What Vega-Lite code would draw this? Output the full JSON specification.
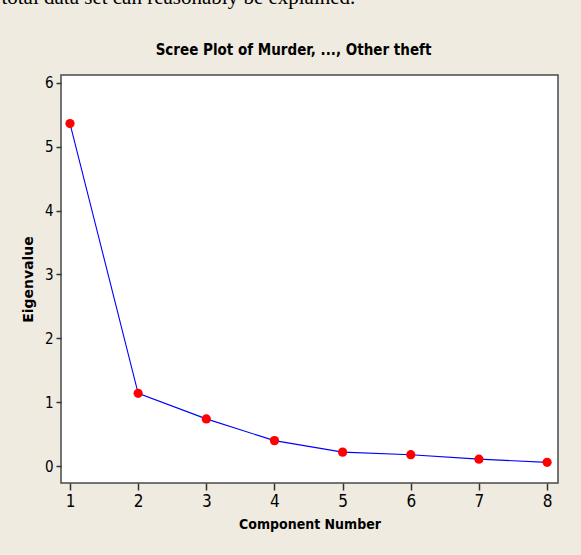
{
  "$schema": "https://vega.github.io/schema/vega-lite/v6.json",
  "width": 497,
  "height": 408,
  "autosize": {"type": "none"},
  "padding": {"left": 61, "top": 75, "right": 23, "bottom": 72},
  "background": "#efebe1",
  "title": {
    "text": "total data set can reasonably be explained.",
    "font": "Liberation Serif",
    "fontWeight": "normal",
    "fontSize": 21,
    "color": "#000000",
    "anchor": "start",
    "frame": "bounds",
    "baseline": "alphabetic",
    "dx": -20,
    "offset": 17
  },
  "data": {
    "values": [
      {"component": 1, "eigenvalue": 5.36},
      {"component": 2, "eigenvalue": 1.14},
      {"component": 3, "eigenvalue": 0.74},
      {"component": 4, "eigenvalue": 0.40},
      {"component": 5, "eigenvalue": 0.22},
      {"component": 6, "eigenvalue": 0.18},
      {"component": 7, "eigenvalue": 0.11},
      {"component": 8, "eigenvalue": 0.06}
    ]
  },
  "config": {
    "view": {"fill": "#ffffff", "stroke": "#4a4a4a", "strokeWidth": 1.5},
    "axis": {"grid": false, "domain": false, "tickColor": "#333333", "tickWidth": 1.5, "labelColor": "#000000", "titleColor": "#000000"}
  },
  "layer": [
    {
      "mark": {"type": "line", "color": "#0000ff", "strokeWidth": 1.1},
      "encoding": {
        "x": {
          "field": "component", "type": "quantitative",
          "scale": {"domain": [0.868, 8.16], "nice": false, "zero": false},
          "axis": {
            "orient": "bottom", "values": [1, 2, 3, 4, 5, 6, 7, 8], "format": "d",
            "title": "Component Number",
            "tickSize": 7, "labelPadding": 3,
            "labelFont": "DejaVu Sans Condensed", "labelFontSize": 17,
            "titleFont": "DejaVu Sans Condensed", "titleFontSize": 14, "titleFontWeight": "bold",
            "titlePadding": 8
          }
        },
        "y": {
          "field": "eigenvalue", "type": "quantitative",
          "scale": {"domain": [-0.263, 6.12], "nice": false, "zero": false},
          "axis": {
            "values": [0, 1, 2, 3, 4, 5, 6], "format": "d",
            "title": "Eigenvalue",
            "tickSize": 5, "labelPadding": 3,
            "labelFont": "DejaVu Sans Condensed", "labelFontSize": 15,
            "titleFont": "DejaVu Sans", "titleFontSize": 14, "titleFontWeight": "bold",
            "titlePadding": 9
          }
        }
      }
    },
    {
      "mark": {"type": "point", "filled": true, "color": "#ff0000", "size": 85, "opacity": 1},
      "encoding": {
        "x": {
          "field": "component", "type": "quantitative",
          "axis": {
            "orient": "top", "labels": false, "ticks": false, "domain": false,
            "title": "Scree Plot of Murder, ..., Other theft",
            "titleFont": "DejaVu Sans Condensed", "titleFontSize": 15, "titleFontWeight": "bold",
            "titleAnchor": "middle", "titleAlign": "center", "titleBaseline": "alphabetic",
            "titleX": 232, "titleY": -21
          }
        },
        "y": {"field": "eigenvalue", "type": "quantitative"}
      }
    }
  ],
  "resolve": {"axis": {"x": "independent"}}
}
